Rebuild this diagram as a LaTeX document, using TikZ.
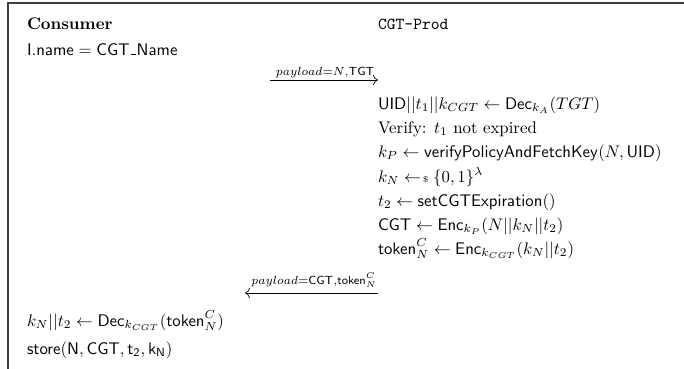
\documentclass[tikz,border=0pt]{standalone}
\usetikzlibrary{arrows.meta}
\newcommand{\smp}{\mathrel{\leftarrow\!{\scriptscriptstyle\$}}}
\newcommand{\usc}{\leavevmode\kern.06em\rule{.3em}{0.4pt}\kern.06em}
\tikzset{
  txt/.style={anchor=base west, inner sep=0pt, outer sep=0pt},
  lbl/.style={anchor=base, inner sep=0pt, font=\scriptsize},
  msg/.style={-{To[length=3pt]}, line width=0.4pt},
  frame/.style={draw=black!75, line width=0.7pt}
}
\begin{document}
\begin{tikzpicture}[x=0.5952pt, y=-0.5952pt]
\useasboundingbox (0,0) rectangle (684,369);
\coordinate (tl) at (8,3);
\coordinate (tr) at (684,3);
\coordinate (bl) at (8,369);
\draw[frame] (tr) -- (tl) -- (bl);
% headers
\node[txt] (cons) at (27,29) {\textbf{Consumer}};
\node[txt] (prod) at (378,29) {\texttt{CGT-Prod}};
\node[txt] (iname) at (27,55) {$\mathsf{I.name} = \textsf{CGT\usc Name}$};
% message 1
\coordinate (m1s) at (270,80);
\coordinate (m1e) at (378,80);
\draw[msg] (m1s) -- (m1e);
\node[lbl] (m1l) at (325,75) {$payload{=}N{,}\mathsf{TGT}$};
% producer steps
\node[txt] (p1) at (378,109) {$\mathsf{UID}||t_1||k_{CGT} \leftarrow \mathsf{Dec}_{k_A}(TGT)$};
\node[txt] (p2) at (378,133) {Verify: $t_1$ not expired};
\node[txt] (p3) at (378,157) {$k_P \leftarrow \mathsf{verifyPolicyAndFetchKey}(N, \mathsf{UID})$};
\node[txt] (p4) at (378,182) {$k_N \smp \{0,1\}^\lambda$};
\node[txt] (p5) at (378,206) {$t_2 \leftarrow \mathsf{setCGTExpiration}()$};
\node[txt] (p6) at (378,230) {$\mathsf{CGT} \leftarrow \mathsf{Enc}_{k_P}(N||k_N||t_2)$};
\node[txt] (p7) at (378,254) {$\mathsf{token}_N^C \leftarrow \mathsf{Enc}_{k_{CGT}}(k_N||t_2)$};
% message 2
\coordinate (m2s) at (378,293);
\coordinate (m2e) at (245,293);
\draw[msg] (m2s) -- (m2e);
\node[lbl] (m2l) at (314,284) {$payload{=}\mathsf{CGT}{,}\mathsf{token}_N^C$};
% consumer steps
\node[txt] (c1) at (27,326) {$k_N||t_2 \leftarrow \mathsf{Dec}_{k_{CGT}}(\mathsf{token}_N^C)$};
\node[txt] (c2) at (27,354) {$\mathsf{store(N, CGT, t_2, k_N)}$};
\end{tikzpicture}
\end{document}
